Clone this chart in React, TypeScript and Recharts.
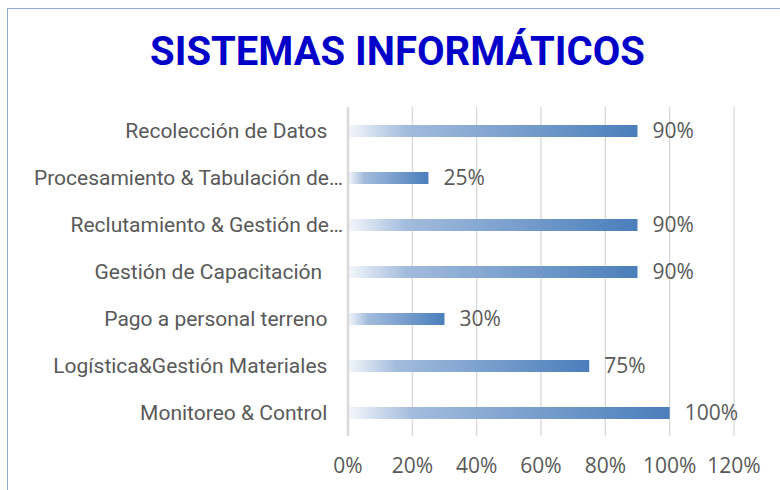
import React from "react";
import {
  BarChart,
  Bar,
  XAxis,
  YAxis,
  CartesianGrid,
  LabelList,
} from "recharts";

// categories as they appear (Excel truncated two of them, some carry trailing spaces)
const categories = [
  "Recolección de Datos   ",
  "Procesamiento & Tabulación de…",
  "Reclutamiento & Gestión de…",
  "Gestión de Capacitación    ",
  "Pago a personal terreno   ",
  "Logística&Gestión Materiales   ",
  "Monitoreo & Control   ",
];
const values = [90, 25, 90, 90, 30, 75, 100];
const xTicks = [0, 20, 40, 60, 80, 100, 120];

const data = categories.map((name, i) => ({ name, value: values[i] }));

const GRAY = "#595959";

const CategoryTick = ({ x, y, payload }: { x?: number; y?: number; payload?: { value: string } }) => (
  <text
    x={x}
    y={y}
    dy="0.35em"
    textAnchor="end"
    fill={GRAY}
    fontSize={21}
    fontFamily="Roboto, sans-serif"
    style={{ whiteSpace: "pre" }}
    xmlSpace="preserve"
  >
    {payload?.value}
  </text>
);

export default function App() {
  return (
    <div
      style={{
        position: "absolute",
        left: 0,
        top: 0,
        width: 780,
        height: 490,
        background: "#fff",
        overflow: "hidden",
      }}
    >
      <div
        style={{
          position: "absolute",
          left: 7,
          top: 8,
          width: 790,
          height: 500,
          borderTop: "1.5px solid #8eaadb",
          borderLeft: "1.5px solid #8eaadb",
        }}
      />
      <div
        style={{
          position: "absolute",
          left: 7,
          top: 32,
          width: 781,
          textAlign: "center",
          fontFamily: "Roboto, sans-serif",
          fontWeight: 700,
          fontSize: 40,
          lineHeight: "40px",
          color: "#0000c8",
        }}
      >
        SISTEMAS INFORMÁTICOS
      </div>
      <BarChart
        width={780}
        height={490}
        data={data}
        layout="vertical"
        margin={{ top: 107, right: 46, bottom: 0, left: 0 }}
        barCategoryGap={0}
        style={{ position: "absolute", left: 0, top: 0 }}
      >
        <defs>
          <linearGradient id="barGrad" x1="0" y1="0" x2="1" y2="0">
            <stop offset="0%" stopColor="#f4f7fb" />
            <stop offset="20%" stopColor="#a3bcdd" />
            <stop offset="100%" stopColor="#4a7ebb" />
          </linearGradient>
        </defs>
        <CartesianGrid horizontal={false} stroke="#d9d9d9" strokeWidth={1.3} />
        <XAxis
          type="number"
          domain={[0, 120]}
          ticks={xTicks}
          tickFormatter={(v: number) => `${v}%`}
          axisLine={false}
          tickLine={false}
          tickSize={0}
          tickMargin={22}
          height={54}
          interval={0}
          tick={{ fill: GRAY, fontSize: 21, fontFamily: "'Open Sans', sans-serif" }}
        />
        <YAxis
          type="category"
          dataKey="name"
          width={348}
          axisLine={{ stroke: "#d9d9d9", strokeWidth: 2.5 }}
          tickLine={false}
          tickSize={0}
          tickMargin={5}
          interval={0}
          tick={<CategoryTick />}
        />
        <Bar dataKey="value" fill="url(#barGrad)" barSize={12} isAnimationActive={false}>
          <LabelList
            dataKey="value"
            position="right"
            offset={15}
            formatter={(v: number) => `${v}%`}
            fill={GRAY}
            fontSize={21}
            fontFamily="'Open Sans', sans-serif"
          />
        </Bar>
      </BarChart>
    </div>
  );
}
